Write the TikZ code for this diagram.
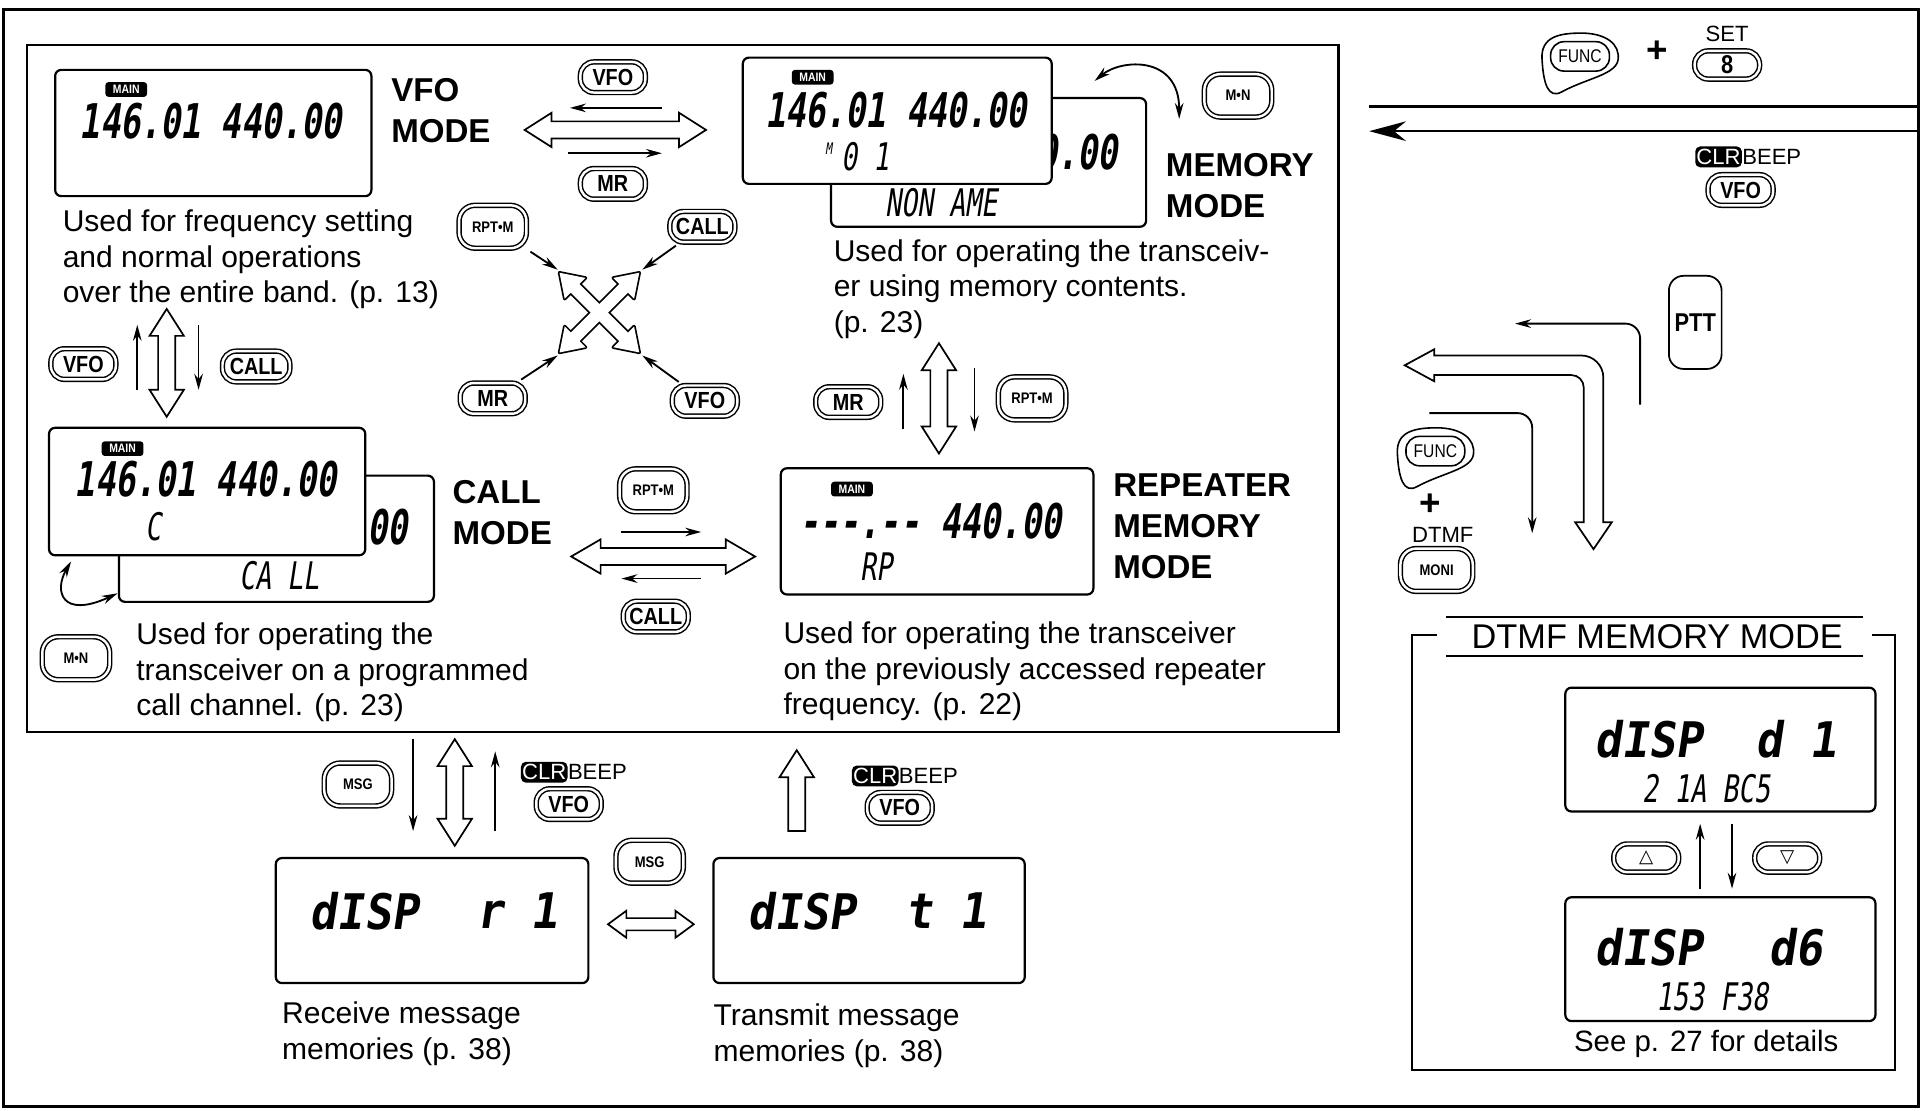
\documentclass[tikz,border=0pt]{standalone}
\usepackage{fontspec}
\setmainfont{Liberation Sans}
\newfontfamily\keyfont[FakeStretch=0.85]{Liberation Sans}
\newfontfamily\lcdfont[FakeSlant=0.15,FakeStretch=0.7]{DejaVu Sans Mono}
\newfontfamily\lcdwide[FakeSlant=0.15,FakeStretch=0.92]{DejaVu Sans Mono}
\newfontfamily\symfont{DejaVu Sans}
\usetikzlibrary{arrows.meta,calc}

\tikzset{
  pics/hollowtwo/.style args={#1/#2/#3/#4}{code={
    \path[pic actions] (-#1,0) -- (-#1+#4,#3) -- (-#1+#4,#2) -- (#1-#4,#2)
      -- (#1-#4,#3) -- (#1,0) -- (#1-#4,-#3) -- (#1-#4,-#2)
      -- (-#1+#4,-#2) -- (-#1+#4,-#3) -- cycle;
  }},
  pics/hollowone/.style args={#1/#2/#3/#4}{code={
    \path[pic actions] (-#1,#2) -- (#1-#4,#2) -- (#1-#4,#3) -- (#1,0)
      -- (#1-#4,-#3) -- (#1-#4,-#2) -- (-#1,-#2) -- cycle;
  }},
  pics/funckey/.style={code={
    \draw[line width=1.3pt] (-30,2) .. controls (-31,-16) and (-16,-19) .. (2,-19)
      .. controls (22,-19) and (34,-10) .. (32,3)
      .. controls (30,15) and (6,18) .. (-14,29)
      .. controls (-25,35) and (-29,22) .. (-30,2) -- cycle;
    \node[draw, line width=1.3pt, rounded corners=11pt, minimum width=48pt,
      minimum height=24pt, inner sep=0pt,
      font=\keyfont\fontsize{15}{15}\selectfont] (-k) at (1,0) {FUNC};
  }}
}

\begin{document}
\begin{tikzpicture}[x=1pt, y=-1pt,
  lcd/.style={draw, line width=1.8pt, rounded corners=5pt, fill=white, inner sep=0pt},
  badge/.style={fill=black, text=white, rounded corners=2.5pt, inner sep=0pt,
    minimum width=34pt, minimum height=12pt,
    font=\keyfont\bfseries\fontsize{10}{10}\selectfont},
  freq/.style={inner sep=0pt, font=\lcdfont\bfseries\fontsize{39}{39}\selectfont},
  lcdline/.style={inner sep=0pt, font=\lcdfont\fontsize{31}{31}\selectfont},
  msgline/.style={inner sep=0pt, font=\lcdwide\bfseries\fontsize{40}{40}\selectfont},
  btn/.style={draw, double, double distance=2pt, line width=1.2pt,
    rounded corners=11pt, inner sep=0pt, minimum width=53pt, minimum height=25pt,
    font=\keyfont\bfseries\fontsize{19}{19}\selectfont},
  tallbtn/.style={btn, rounded corners=13pt, minimum width=55pt, minimum height=35pt,
    font=\keyfont\bfseries\fontsize{12.5}{12.5}\selectfont},
  headtxt/.style={anchor=north west, align=left, inner sep=0pt,
    font=\bfseries\fontsize{27}{33.5}\selectfont},
  bodytxt/.style={anchor=north west, align=left, inner sep=0pt,
    font=\fontsize{24.5}{29}\selectfont},
  lbl/.style={inner sep=0pt, font=\fontsize{18}{18}\selectfont},
  clr/.style={fill=black, text=white, rounded corners=4pt, inner sep=1pt,
    minimum height=17pt, font=\fontsize{18}{18}\selectfont},
  thinarr/.style={-{Stealth[length=13pt,width=7pt]}, line width=1.5pt},
  bentarr/.style={{Stealth[length=13pt,width=7pt]}-{Stealth[length=13pt,width=7pt]},
    line width=1.5pt},
  hollow/.style={draw, fill=white, line width=1.4pt},
]
\useasboundingbox (0,0) rectangle (1568,906);
\fill[white] (0,0) rectangle (1568,906);

% frames
\draw[line width=2.4pt] (3,8) rectangle (1565,903);
\draw[line width=1.8pt] (22,37) rectangle (1092,597);

% VFO mode
\node[lcd, minimum width=258pt, minimum height=103pt] (vfo) at (174,108.5) {};
\node[badge] (vfoMain) at (103,73) {MAIN};
\node[freq] (vfoFreq) at (172,99) {146.01 440.00};
\node[headtxt] (vfoHead) at (319,64) {VFO\\MODE};
\node[bodytxt] (vfoText) at (51,171) {Used for frequency setting\\and normal operations\\over the entire band. (p. 13)};

% memory mode
\node[lcd, minimum width=257pt, minimum height=105pt] (memBack) at (806.5,132.5) {};
\node[freq, anchor=east] (memBackFreq) at (912,124) {440.00};
\node[lcd, minimum width=252pt, minimum height=103pt] (memFront) at (732,98.5) {};
\node[badge] (memMain) at (663,63) {MAIN};
\node[freq] (memFreq) at (731,90) {146.01 440.00};
\node[inner sep=0pt, font=\lcdfont\fontsize{13}{13}\selectfont] (memM) at (676,121) {M};
\node[lcdline] (memCh) at (706,128) {0 1};
\node[lcdline] (memName) at (768,165) {NON AME};
\node[headtxt] (memHead) at (951,125) {MEMORY\\MODE};
\node[bodytxt] (memText) at (680,195) {Used for operating the transceiv-\\er using memory contents.\\(p. 23)};

% call mode
\node[lcd, minimum width=257pt, minimum height=103pt] (callBack) at (225.5,439.5) {};
\node[freq, anchor=east] (callBackFreq) at (333,430) {440.00};
\node[lcd, minimum width=258pt, minimum height=104pt] (callFront) at (169,401) {};
\node[badge] (callMain) at (100,366) {MAIN};
\node[freq] (callFreq) at (168,391) {146.01 440.00};
\node[lcdline] (callCh) at (125,430) {C};
\node[lcdline] (callName) at (228,470) {CA LL};
\node[headtxt] (callHead) at (369,392) {CALL\\MODE};
\node[bodytxt] (callText) at (111,508) {Used for operating the\\transceiver on a programmed\\call channel. (p. 23)};

% repeater memory mode
\node[lcd, minimum width=255pt, minimum height=103pt] (rpt) at (764.5,433.5) {};
\node[badge] (rptMain) at (695,399) {MAIN};
\node[freq] (rptFreq) at (759,425) {-\kern0pt-\kern0pt-.-\kern0pt- 440.00};
\node[lcdline] (rptCh) at (715,462) {RP};
\node[headtxt] (rptHead) at (908,386) {REPEATER\\MEMORY\\MODE};
\node[bodytxt] (rptText) at (639,507) {Used for operating the transceiver\\on the previously accessed repeater\\frequency. (p. 22)};

% message memories
\node[lcd, minimum width=255pt, minimum height=102pt] (rcv) at (352.5,751) {};
\node[msgline] (rcvA) at (297,743) {dISP};
\node[msgline] (rcvB) at (422,743) {r 1};
\node[bodytxt] (rcvText) at (230,817) {Receive message\\memories (p. 38)};
\node[lcd, minimum width=254pt, minimum height=102pt] (trm) at (709,751) {};
\node[msgline] (trmA) at (654,743) {dISP};
\node[msgline] (trmB) at (772,743) {t 1};
\node[bodytxt] (trmText) at (582,819) {Transmit message\\memories (p. 38)};

% keys
\node[btn] (kVfoTop) at (500,63) {VFO};
\node[btn] (kMrTop) at (500,150) {MR};
\node[tallbtn] (kRptX) at (402,185) {RPT•M};
\node[btn] (kCallX) at (573,185) {CALL};
\node[btn] (kMrX) at (402,325) {MR};
\node[btn] (kVfoX) at (575,327) {VFO};
\node[btn] (kVfoL) at (68,297) {VFO};
\node[btn, minimum width=55pt] (kCallL) at (209,299) {CALL};
\node[tallbtn] (kMnM) at (1010,78) {M•N};
\node[btn] (kMrR) at (692,328) {MR};
\node[tallbtn] (kRptR) at (842,325) {RPT•M};
\node[tallbtn] (kMnC) at (62,537) {M•N};
\node[tallbtn] (kRptC) at (533,400) {RPT•M};
\node[btn] (kCallC) at (535,503) {CALL};
\node[tallbtn] (kMsgA) at (292,640) {MSG};
\node[btn] (kVfoA) at (464,656) {VFO};
\node[tallbtn] (kMsgB) at (530,703) {MSG};
\node[btn] (kVfoB) at (734,659) {VFO};
\node[btn, minimum height=23pt, font=\keyfont\bfseries\fontsize{21}{21}\selectfont] (kEight) at (1409,53) {8};
\node[btn] (kVfoR) at (1420,155) {VFO};
\node[tallbtn, minimum width=59pt] (kMoni) at (1172,465) {MONI};
\node[btn, minimum height=23pt, font=\symfont\bfseries\fontsize{15}{15}\selectfont] (kUp) at (1343,700) {△};
\node[btn, minimum height=23pt, font=\symfont\bfseries\fontsize{15}{15}\selectfont] (kDown) at (1458,700) {▽};

% CLR / BEEP labels
\node[clr] (clrA) at (444,630) {CLR};
\node[lbl, anchor=base west] (beepA) at (clrA.base east) {BEEP};
\node[clr] (clrB) at (714,633) {CLR};
\node[lbl, anchor=base west] (beepB) at (clrB.base east) {BEEP};
\node[clr] (clrR) at (1402,128) {CLR};
\node[lbl, anchor=base west] (beepR) at (clrR.base east) {BEEP};

% hollow arrows
\pic[hollow] at (502,106) {hollowtwo=74/7/14/22};
\pic[hollow, rotate=90] at (136,296) {hollowtwo=44/7/14/22};
\pic[hollow, rotate=90] at (766,325) {hollowtwo=45/7/14/22};
\pic[hollow] at (541,454) {hollowtwo=75/7/14/24};
\pic[hollow, rotate=90] at (371,646.5) {hollowtwo=43.5/7/14/22};
\pic[hollow, rotate=90] at (650,645) {hollowone=33/7/14/22};
\pic[hollow] at (531,754) {hollowtwo=35/5/11/15};
% the cross
\pic[draw, line width=2.8pt, line join=round, rotate=45] at (489,255) {hollowtwo=46/5/12/18};
\pic[draw, line width=2.8pt, line join=round, rotate=-45] at (489,255) {hollowtwo=46/5/12/18};
\pic[fill=white, rotate=45] at (489,255) {hollowtwo=46/5/12/18};
\pic[fill=white, rotate=-45] at (489,255) {hollowtwo=46/5/12/18};

% thin arrows
\foreach \n/\x/\y in {t1/540/88, t2/465/88, t3/463/125, t4/540/125,
    l1/112/318, l2/112/265, l3/162/265, l4/162/318,
    xa/455/220, xb/524/220, xc/455/290, xd/524/290,
    m1/737/350, m2/737/305, m3/795/300, m4/795/352,
    c1/507/434, c2/572/434, c3/572/472, c4/507/472,
    b1/337/603, b2/337/678, b3/404/678, b4/404/613,
    u1/1387/725, u2/1387/672, u3/1413/672, u4/1413/725}
  \coordinate (\n) at (\x,\y);

\path (t1) edge[thinarr] (t2) (t3) edge[thinarr] (t4)
      (l1) edge[thinarr] (l2) (l3) edge[thinarr] (l4)
      (m1) edge[thinarr] (m2) (m3) edge[thinarr] (m4)
      (c1) edge[thinarr] (c2) (c3) edge[thinarr] (c4)
      (b1) edge[thinarr] (b2) (b3) edge[thinarr] (b4)
      (u1) edge[thinarr] (u2) (u3) edge[thinarr] (u4);
\path (kRptX) edge[thinarr, shorten <=4pt] (xa)
      (kCallX) edge[thinarr, shorten <=4pt] (xb)
      (kMrX) edge[thinarr, shorten <=4pt] (xc)
      (kVfoX) edge[thinarr, shorten <=4pt] (xd);

% channel name toggles
\coordinate (mc1) at (893,66);
\coordinate (mc2) at (962,97);
\draw[bentarr] (mc1) .. controls (915,48) and (962,45) .. (mc2);
\coordinate (cc1) at (58,458);
\coordinate (cc2) at (96,484);
\draw[bentarr] (cc1) .. controls (44,482) and (50,505) .. (cc2);

% right column
\coordinate (topR) at (1565,87);
\coordinate (topL) at (1117,87);
\draw[line width=2pt] (topR) -- (topL);
\coordinate (retR) at (1565,107);
\coordinate (retL) at (1117,107);
\draw[line width=2pt, -{Stealth[length=30pt,width=16pt]}] (retR) -- (retL);

\pic (funcTop) at (1288,46) {funckey};
\node[lbl, font=\bfseries\fontsize{30}{30}\selectfont] (plusTop) at (1352,42) {+};
\node[lbl] (setLbl) at (1409,28) {SET};

\node[draw, line width=1.4pt, rounded corners=12pt, minimum width=43pt,
  minimum height=76pt, inner sep=0pt,
  font=\keyfont\bfseries\fontsize{21}{21}\selectfont] (ptt) at (1383,263) {PTT};
\coordinate (pt1) at (1338,330);
\coordinate (pt2) at (1338,264);
\coordinate (pt3) at (1236,264);
\draw[thinarr, rounded corners=12pt] (pt1) -- (pt2) -- (pt3);

\draw[hollow] (1146,298) -- (1170,285) -- (1170,290) -- (1290,290)
  arc[start angle=90, end angle=0, radius=18pt] -- (1308,426) -- (1315,426)
  -- (1300,448) -- (1285,426) -- (1292,426) -- (1292,316)
  arc[start angle=0, end angle=90, radius=10pt] -- (1170,306) -- (1170,311) -- cycle;

\coordinate (fa1) at (1166,337);
\coordinate (fa2) at (1250,337);
\coordinate (fa3) at (1250,435);
\draw[thinarr, rounded corners=12pt] (fa1) -- (fa2) -- (fa3);

\pic (funcBot) at (1170,368) {funckey};
\node[lbl, font=\bfseries\fontsize{30}{30}\selectfont] (plusBot) at (1167,412) {+};
\node[lbl] (dtmfLbl) at (1177,436) {DTMF};

% DTMF memory mode
\draw[line width=1.6pt] (1172,518) -- (1152,518) -- (1152,873) -- (1546,873)
  -- (1546,518) -- (1527,518);
\node[inner sep=0pt, font=\fontsize{28}{28}\selectfont] (dtmfTitle) at (1352,519) {DTMF MEMORY MODE};
\draw[line width=1.6pt] (1180,503) -- (1520,503) (1180,535) -- (1520,535);

\node[lcd, minimum width=253pt, minimum height=101pt] (dOne) at (1403.5,611.5) {};
\node[msgline] (dOneA) at (1345,603) {dISP};
\node[msgline] (dOneB) at (1465,603) {d 1};
\node[lcdline] (dOneC) at (1392,643) {2 1A BC5};
\node[lcd, minimum width=253pt, minimum height=101pt] (dSix) at (1403.5,782.5) {};
\node[msgline] (dSixA) at (1345,773) {dISP};
\node[msgline] (dSixB) at (1465,773) {d6};
\node[lcdline] (dSixC) at (1397,813) {153 F38};
\node[inner sep=0pt, font=\fontsize{24}{24}\selectfont] (seeLbl) at (1392,852) {See p. 27 for details};
\end{tikzpicture}
\end{document}
